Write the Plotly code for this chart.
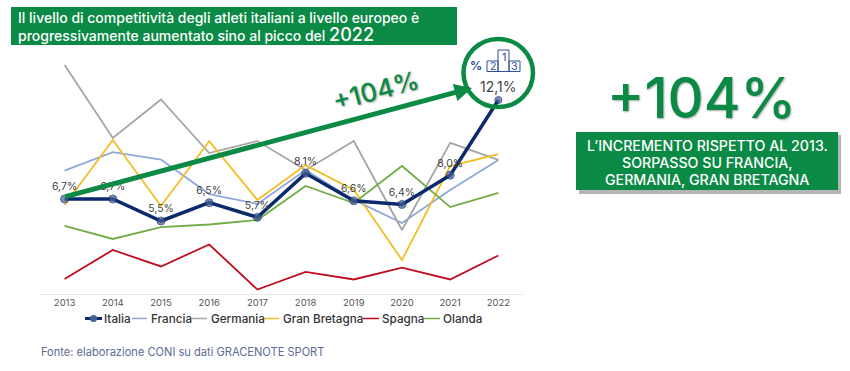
import plotly.graph_objects as go

years = ["2013","2014","2015","2016","2017","2018","2019","2020","2021","2022"]
italia = [6.7,6.7,5.5,6.5,5.7,8.1,6.6,6.4,8.0,12.1]
francia = [8.25,9.26,8.85,6.97,6.43,8.28,6.65,5.39,7.19,8.83]
germania = [14.01,10.03,12.13,9.21,9.86,8.28,9.86,5.01,9.76,8.83]
gran_bretagna = [6.37,9.92,6.32,9.86,6.65,8.55,7.19,3.37,8.5,9.15]
spagna = [2.34,3.92,3.02,4.22,1.76,2.72,2.31,2.96,2.31,3.62]
olanda = [5.23,4.52,5.17,5.31,5.55,7.41,6.48,8.5,6.26,7.03]
italia_labels = ["6,7%","6,7%","5,5%","6,5%","5,7%","8,1%","6,6%","6,4%","8,0%",""]

W, H = 850, 371
FONT = "Inter"
GREEN = "#0b8a45"
BLUE = "#2f4f9e"
px = lambda v: v / W
py = lambda v: 1 - v / H

fig = go.Figure()
others = [("Francia", francia, "#8fa8dc", 1.8), ("Germania", germania, "#a5a5a5", 1.8),
          ("Gran Bretagna", gran_bretagna, "#f5bd25", 1.8), ("Spagna", spagna, "#c00d1e", 1.8),
          ("Olanda", olanda, "#70ad47", 1.8)]
for name, vals, col, w in others:
    fig.add_trace(go.Scatter(x=years, y=vals, mode="lines", name=name, line=dict(color=col, width=w)))
fig.add_trace(go.Scatter(x=years, y=italia, mode="lines+markers+text", name="Italia",
    line=dict(color="#0b2a6e", width=3.5), marker=dict(size=[8]*9+[7], color="#44608f"),
    text=italia_labels, textposition="top center", textfont=dict(family=FONT, size=10.5, color="#444444")))

shapes = []
def rect(x0, y0, x1, y1, fill=None, line=None, lw=1):
    shapes.append(dict(type="rect", xref="paper", yref="paper", x0=px(x0), x1=px(x1), y0=py(y1), y1=py(y0),
                       fillcolor=fill or "rgba(0,0,0,0)", line=dict(color=line or "rgba(0,0,0,0)", width=lw if line else 0)))
rect(11, 7, 457, 45, fill=GREEN)
rect(579, 135, 841, 194, fill="#b5b5b5")
rect(576, 132, 838, 190, fill=GREEN)
rect(487, 61, 498, 71.5, line=BLUE)
rect(498, 50, 509, 71.5, line=BLUE)
rect(509, 61, 520, 71.5, line=BLUE)
shapes.append(dict(type="circle", xref="paper", yref="paper", x0=px(463.5), x1=px(533), y0=py(107), y1=py(39),
                   fillcolor="rgba(0,0,0,0)", line=dict(color=GREEN, width=4.5), layer="above"))

# hand-placed legend
legend_items = [("Italia",85,102,102,"#0b2a6e",3),("Francia",132,147,149,"#8fa8dc",1.5),("Germania",192,207,209,"#a5a5a5",1.5),
                ("Gran Bretagna",264,279,281,"#f5bd25",1.5),("Spagna",363,379,380,"#c00d1e",1.5),("Olanda",424,440,441,"#70ad47",1.5)]
ann = []
def text(x, y, s, size, color, anchor="center", angle=0, shadow=None, family=FONT, weight=None):
    f = dict(family=family, size=size, color=color)
    if shadow: f["shadow"] = shadow
    if weight: f["weight"] = weight
    ann.append(dict(xref="paper", yref="paper", x=px(x), y=py(y), text=s, showarrow=False, font=f,
                    xanchor=anchor, yanchor="middle", textangle=angle, align="center"))
for name, x0, x1, tx, col, lw in legend_items:
    shapes.append(dict(type="line", xref="paper", yref="paper", x0=px(x0), x1=px(x1), y0=py(318.5), y1=py(318.5),
                       line=dict(color=col, width=lw)))
    text(tx, 318.5, name, 11.7, "#333333", anchor="left", weight=500)
shapes.append(dict(type="circle", xref="paper", yref="paper", x0=px(90), x1=px(97), y0=py(322), y1=py(315),
                   fillcolor="#44608f", line=dict(width=0)))

text(16, 18, "Il livello di competitività degli atleti italiani a livello europeo è", 14, "white", anchor="left", weight=500)
text(16, 35, 'progressivamente aumentato sino al picco del <span style="font-size:18px">2022</span>', 14, "white", anchor="left", weight=500)
text(376, 91, "+104%", 26, GREEN, angle=-15, shadow="1px 1px 2px #aaaaaa", weight=500)
text(701, 98, "+104%", 56, GREEN, shadow="1px 1px 2px #aaaaaa", weight=500)
text(707, 145, "L’INCREMENTO RISPETTO AL 2013.", 14.2, "white", weight=500)
text(707, 162, "SORPASSO SU FRANCIA,", 14.2, "white", weight=500)
text(707, 179, "GERMANIA, GRAN BRETAGNA", 14.2, "white", weight=500)
text(476, 65, "<b>%</b>", 12, BLUE)
text(492.5, 66, "2", 10.5, BLUE)
text(503.5, 57, "1", 11, BLUE)
text(514.5, 66, "3", 10.5, BLUE)
text(498, 87, "12,1%", 14, "#444444")
text(39, 352, "Fonte: elaborazione CONI su dati GRACENOTE SPORT", 11.1, "#5d6a96", anchor="left")
ann.append(dict(xref="paper", yref="paper", axref="pixel", ayref="pixel", x=px(472), y=py(88), ax=-408, ay=109,
                text="", showarrow=True, arrowhead=2, arrowsize=0.7, arrowwidth=5, arrowcolor=GREEN))

fig.update_layout(width=W, height=H, margin=dict(l=0, r=0, t=0, b=0), showlegend=False,
    paper_bgcolor="white", plot_bgcolor="white", shapes=shapes, annotations=ann,
    xaxis=dict(domain=[px(40.5), px(522.5)], type="category", range=[-0.5, 9.5], showgrid=False, zeroline=False,
               showline=True, linecolor="#e6e6e6", linewidth=1, ticks="", ticklen=1, tickfont=dict(family=FONT, size=9.5, color="#555555")),
    yaxis=dict(domain=[py(293.5), py(50)], range=[1.545, 14.83], showgrid=False, zeroline=False, showticklabels=False, ticks=""))
fig.write_html("out.html", post_script="document.body.style.margin='0';", config={"displayModeBar": False})
